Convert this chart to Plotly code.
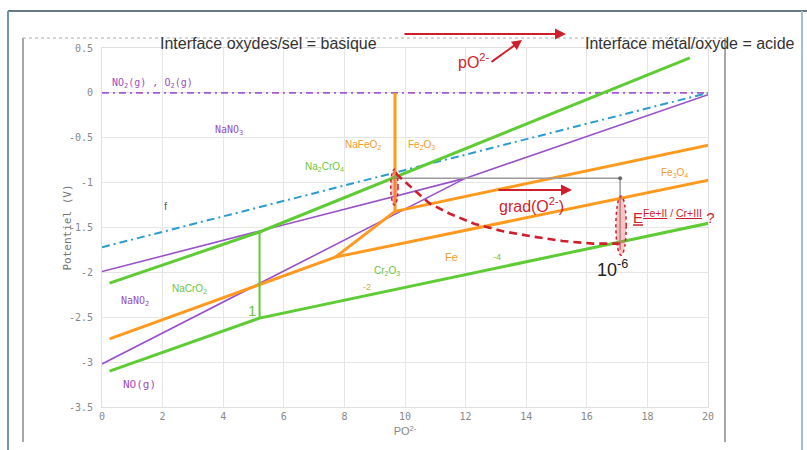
import plotly.graph_objects as go

# ---- Potential / pO2- diagram data ----
# Chromium (green)
cr_upper_x = [0.25, 5.2, 19.4]
cr_upper_y = [-2.12, -1.55, 0.39]
cr_lower_x = [0.25, 5.2, 20.2]
cr_lower_y = [-3.10, -2.51, -1.44]
cr_vert_x = [5.2, 5.2]
cr_vert_y = [-1.55, -2.51]

# Iron (orange)
fe_a_x = [0.25, 7.7]
fe_a_y = [-2.74, -1.83]
fe_b_x = [7.7, 9.67]
fe_b_y = [-1.83, -1.32]
fe_c_x = [7.7, 20.2]
fe_c_y = [-1.83, -0.96]
fe_d_x = [9.67, 20.2]
fe_d_y = [-1.32, -0.57]
fe_vert_x = [9.67, 9.67]
fe_vert_y = [0.0, -1.32]

# Nitrogen (purple)
n_upper_x = [0.0, 12.0, 20.0]
n_upper_y = [-1.99, -0.95, -0.02]
n_lower_x = [0.0, 12.0]
n_lower_y = [-3.02, -0.95]
n_gas_x = [0.0, 20.0]
n_gas_y = [0.0, 0.0]

# Dash-dot (blue)
blue_x = [0.0, 20.0]
blue_y = [-1.72, 0.0]

# Dashed red path
path_x = [9.7, 10.2, 10.8, 11.5, 12.3, 13.2, 14.2, 15.2, 16.2, 17.1]
path_y = [-0.90, -1.05, -1.23, -1.35, -1.46, -1.54, -1.60, -1.65, -1.68, -1.68]

# Grey guide
guide_x = [9.7, 17.1, 17.1]
guide_y = [-0.95, -0.95, -1.75]

# Ellipses: centre x, centre y, half width, half height
ell_cx = [9.65, 17.13]
ell_cy = [-1.05, -1.48]
ell_rx = [0.12, 0.17]
ell_ry = [0.20, 0.33]

# Axis ticks
x_ticks = [0, 2, 4, 6, 8, 10, 12, 14, 16, 18, 20]
y_ticks = [0.5, 0, -0.5, -1, -1.5, -2, -2.5, -3, -3.5]
y_tick_text = ["0.5", "0", "-0.5", "-1", "-1.5", "-2", "-2.5", "-3", "-3.5"]

# Region labels
PURPLE_T = "#9b50c4"
GREEN_T = "#6cc53c"
ORANGE_T = "#f39a2a"
MONO = "DejaVu Sans Mono"
SANS = "Liberation Sans"
label_text = ["NO<sub>2</sub>(g) , O<sub>2</sub>(g)", "NaNO<sub>3</sub>", "NaNO<sub>2</sub>", "NO(g)",
              "NaCrO<sub>2</sub>", "Na<sub>2</sub>CrO<sub>4</sub>", "Cr<sub>2</sub>O<sub>3</sub>",
              "NaFeO<sub>2</sub>", "Fe<sub>2</sub>O<sub>3</sub>", "Fe<sub>3</sub>O<sub>4</sub>", "Fe",
              "1", "-2", "-4", "f"]
label_x = [0.27, 4.2, 1.08, 1.25, 2.9, 7.35, 9.4, 8.6, 10.55, 18.9, 11.55, 4.95, 8.75, 13.05, 2.1]
label_y = [0.1, -0.42, -2.33, -3.25, -2.18, -0.83, -1.98, -0.58, -0.58, -0.89, -1.83, -2.42, -2.16, -1.83, -1.26]
label_color = [PURPLE_T, PURPLE_T, PURPLE_T, PURPLE_T, GREEN_T, GREEN_T, GREEN_T,
               ORANGE_T, ORANGE_T, ORANGE_T, ORANGE_T, GREEN_T, "#c8b048", GREEN_T, "#55657a"]
label_font = [MONO, MONO, MONO, MONO, SANS, SANS, SANS, SANS, SANS, SANS, SANS, SANS, SANS, SANS, SANS]
label_size = [10, 10, 10, 11, 10, 10, 10, 10, 10, 10, 11, 15, 9, 9, 11]
label_anchor = ["left", "center", "center", "center", "center", "center", "center",
                "center", "center", "center", "center", "center", "center", "center", "center"]

GREEN = "#5fcb35"
ORANGE = "#ff9a1f"
PURPLE = "#9a52c8"
BLUE = "#2b9bd0"
RED = "#cf1f2c"

fig = go.Figure()


def line(x, y, color, width, dash="solid"):
    fig.add_trace(go.Scatter(x=x, y=y, mode="lines",
                             line=dict(color=color, width=width, dash=dash),
                             hoverinfo="skip", showlegend=False))


line(n_gas_x, n_gas_y, "#a35ad4", 1.8, "7px,4px,2px,4px")
line(blue_x, blue_y, BLUE, 2, "8px,4px,2px,4px")
line(n_upper_x, n_upper_y, PURPLE, 1.6)
line(n_lower_x, n_lower_y, PURPLE, 1.6)
line(fe_a_x, fe_a_y, ORANGE, 3)
line(fe_b_x, fe_b_y, ORANGE, 3)
line(fe_c_x, fe_c_y, ORANGE, 3)
line(fe_d_x, fe_d_y, ORANGE, 3)
line(fe_vert_x, fe_vert_y, ORANGE, 3)
line(cr_upper_x, cr_upper_y, GREEN, 3)
line(cr_lower_x, cr_lower_y, GREEN, 3)
line(cr_vert_x, cr_vert_y, GREEN, 2)
line(guide_x, guide_y, "#9a9a9a", 1.5)
fig.add_trace(go.Scatter(x=guide_x[1:2], y=guide_y[1:2], mode="markers",
                         marker=dict(color="#666", size=4), hoverinfo="skip", showlegend=False))
line(path_x, path_y, RED, 2.6, "8px,5px")

shapes = []
for cx, cy, rx, ry in zip(ell_cx, ell_cy, ell_rx, ell_ry):
    shapes.append(dict(type="circle", xref="x", yref="y", x0=cx - rx, x1=cx + rx,
                       y0=cy - ry, y1=cy + ry, fillcolor="rgba(235,90,90,0.35)",
                       line=dict(color=RED, width=1.5, dash="dot")))

# page frame in pixel positions converted to paper coordinates
PL, PR, PT, PB = 102, 708, 48, 407


def px(v):
    return (v - PL) / (PR - PL)


def py(v):
    return (PB - v) / (PB - PT)


frame = [
    (8, 11, 807, 11, "#2f4e5e", 1.5, "solid"),
    (8, 11, 8, 450, "#6b97b5", 2, "solid"),
    (802, 11, 802, 450, "#9fc0d6", 2, "solid"),
    (23, 38, 23, 442, "#8a8a8a", 1.5, "solid"),
    (23, 38, 725, 38, "#b0b0b0", 1.2, "dot"),
    (725, 38, 725, 442, "#8a8a8a", 1.5, "solid"),
]
for x0, y0, x1, y1, c, w, d in frame:
    shapes.append(dict(type="line", xref="paper", yref="paper", x0=px(x0), y0=py(y0),
                       x1=px(x1), y1=py(y1), line=dict(color=c, width=w, dash=d)))

annotations = []
for t, x, y, c, f, s, a in zip(label_text, label_x, label_y, label_color, label_font, label_size, label_anchor):
    annotations.append(dict(x=x, y=y, xref="x", yref="y", text=t, showarrow=False,
                            xanchor=a, font=dict(family=f, size=s, color=c)))

# header texts and arrows
annotations += [
    dict(x=px(158), y=py(33), xref="paper", yref="paper", xanchor="left", showarrow=False,
         text="Interface oxydes/sel = basique", font=dict(family=SANS, size=16, color="#333")),
    dict(x=px(583), y=py(33), xref="paper", yref="paper", xanchor="left", showarrow=False,
         text="Interface métal/oxyde = acide", font=dict(family=SANS, size=16, color="#333")),
    dict(x=px(566), y=py(34), xref="paper", yref="paper", ax=-163, ay=0, text="",
         showarrow=True, arrowhead=2, arrowsize=1, arrowwidth=2.2, arrowcolor=RED),
    dict(x=px(474), y=py(49), xref="paper", yref="paper", showarrow=False,
         text="pO<sup>2-</sup>", font=dict(family=SANS, size=16, color=RED)),
    dict(x=px(522), y=py(40), xref="paper", yref="paper", ax=-32, ay=23, text="",
         showarrow=True, arrowhead=2, arrowsize=1, arrowwidth=2, arrowcolor=RED),
    dict(x=px(572), y=py(190), xref="paper", yref="paper", ax=-75, ay=0, text="",
         showarrow=True, arrowhead=2, arrowsize=1, arrowwidth=2.2, arrowcolor=RED),
    dict(x=px(497), y=py(205), xref="paper", yref="paper", xanchor="left", showarrow=False,
         text="grad(O<sup>2-</sup>)", font=dict(family=SANS, size=16, color=RED)),
    dict(x=px(631), y=py(216), xref="paper", yref="paper", xanchor="left", showarrow=False,
         text="<u>E</u><sup><u>Fe+II</u> / <u>Cr+III</u></sup> ?", font=dict(family=SANS, size=15, color=RED)),
    dict(x=px(630), y=py(268), xref="paper", yref="paper", showarrow=False,
         text="10<sup>-6</sup>", font=dict(family=SANS, size=18, color="#222")),
    dict(x=px(58), y=py(228), xref="paper", yref="paper", showarrow=False, textangle=-90,
         text="Potentiel (V)", font=dict(family=MONO, size=11, color="#777")),
]

fig.update_layout(
    width=807, height=450,
    margin=dict(l=PL, r=807 - PR, t=PT, b=450 - PB),
    paper_bgcolor="white", plot_bgcolor="white",
    shapes=shapes, annotations=annotations,
    xaxis=dict(range=[0, 20], tickvals=x_ticks, showgrid=True, gridcolor="#e6e6e6",
               zeroline=False, showline=True, linecolor="#e0e0e0", mirror=True,
               tickfont=dict(family=MONO, size=10, color="#888"),
               title=dict(text="PO<sup>2-</sup>", standoff=6,
                          font=dict(family=SANS, size=11, color="#888"))),
    yaxis=dict(range=[-3.5, 0.5], tickvals=y_ticks, ticktext=y_tick_text, showgrid=True,
               gridcolor="#e6e6e6", zeroline=False, showline=True, linecolor="#e0e0e0",
               mirror=True, ticklabelstandoff=6,
               tickfont=dict(family=MONO, size=10, color="#888")),
)

fig.write_html("out.html")
